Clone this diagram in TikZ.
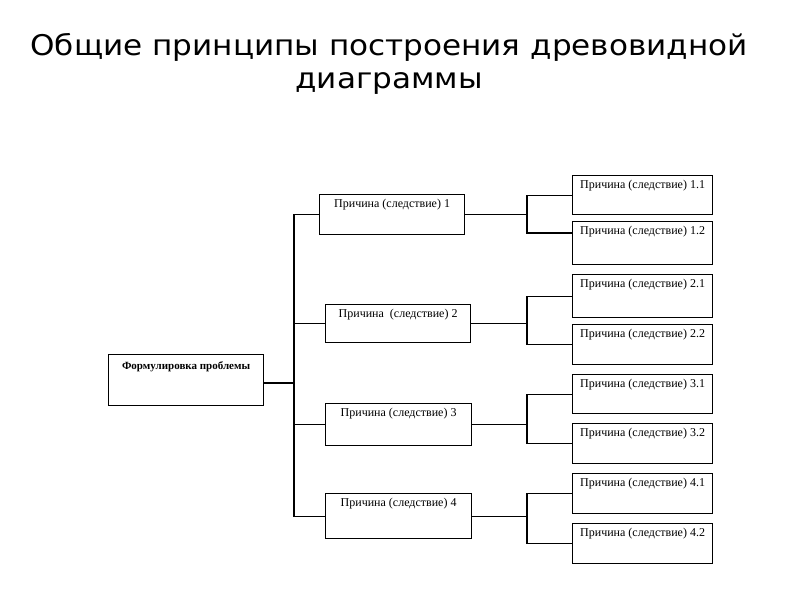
\documentclass[tikz,border=0pt]{standalone}
\usepackage{fontspec}
\setmainfont{Liberation Serif}
\newfontfamily\titlefont{DejaVu Sans}
\usetikzlibrary{calc}
\begin{document}
\begin{tikzpicture}[x=1pt,y=-1pt,line width=1.2pt,
  box/.style={draw,anchor=north west,inner sep=0pt,text height=13pt,align=center,font=\fontsize{12}{14}\selectfont},
  child/.style={box,minimum width=140pt},
  cause/.style={box,minimum width=145pt},
  prob/.style={box,minimum width=155pt,text height=15pt,font=\bfseries\fontsize{11}{12}\selectfont},
  ttl/.style={anchor=base,inner sep=0pt,font=\titlefont\fontsize{28.5}{34}\selectfont},
  conn/.style={draw}]
\useasboundingbox (0,0) rectangle (800,600);
\node[ttl] (t1) at (389,55) {\scalebox{1.09}[1]{Общие принципы построения древовидной}};
\node[ttl] (t2) at (389,88) {\scalebox{1.09}[1]{диаграммы}};

\node[prob,text depth=36pt] (p) at (108,354) {Формулировка проблемы};

\node[cause,text depth=27pt] (b1) at (319,194) {Причина (следствие) 1};
\node[cause,text depth=25pt] (b2) at (325,304) {Причина\ \ (следствие) 2};
\node[cause,minimum width=146pt,text depth=29pt] (b3) at (325,403) {Причина (следствие) 3};
\node[cause,minimum width=146pt,text depth=32pt] (b4) at (325,493) {Причина (следствие) 4};

\node[child,text depth=26pt] (c11) at (572,175) {Причина (следствие) 1.1};
\node[child,text depth=30pt] (c12) at (572,221) {Причина (следствие) 1.2};
\node[child,text depth=30pt] (c21) at (572,274) {Причина (следствие) 2.1};
\node[child,text depth=27pt] (c22) at (572,324) {Причина (следствие) 2.2};
\node[child,text depth=26pt] (c31) at (572,374) {Причина (следствие) 3.1};
\node[child,text depth=27pt] (c32) at (572,423) {Причина (следствие) 3.2};
\node[child,text depth=27pt] (c41) at (572,473) {Причина (следствие) 4.1};
\node[child,text depth=27pt] (c42) at (572,523) {Причина (следствие) 4.2};

\coordinate (t) at (294,383);
\coordinate (k) at (527,0);
\coordinate (c12w) at ($(c12.north west)+(0,12)$);
\coordinate (pe) at ($(p.north east)+(0,29)$);

\draw[conn] (pe) -- (pe -| t);
\draw[conn] (b1.west) -| (t) |- (b4.west);
\draw[conn] (b2.west) -- (b2.west -| t);
\draw[conn] (b3.west) -- (b3.west -| t);

\draw[conn] (b1.east) -- (b1.east -| k);
\draw[conn] (c11.west) -| (b1.east -| k) |- (c12w);
\draw[conn] (b2.east) -- (b2.east -| k);
\draw[conn] (c21.west) -| (b2.east -| k) |- (c22.west);
\draw[conn] (b3.east) -- (b3.east -| k);
\draw[conn] (c31.west) -| (b3.east -| k) |- (c32.west);
\draw[conn] (b4.east) -- (b4.east -| k);
\draw[conn] (c41.west) -| (b4.east -| k) |- (c42.west);
\end{tikzpicture}
\end{document}
